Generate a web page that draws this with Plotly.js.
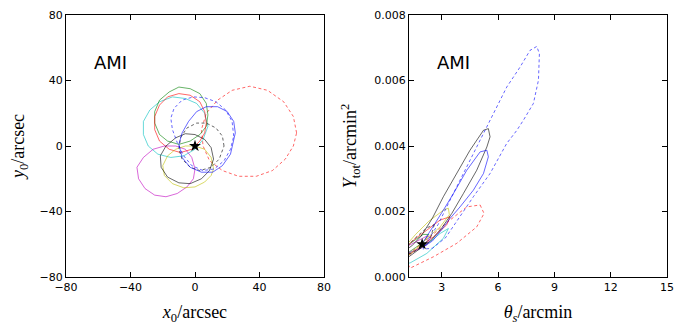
<!DOCTYPE html>
<html>
<head>
<meta charset="utf-8">
<script src="https://cdn.plot.ly/plotly-3.0.1.min.js"></script>
<style>html,body{margin:0;padding:0;background:#fff;}#chart{width:682px;height:332px;}</style>
</head>
<body>
<div id="chart"></div>
<script>
// ---------- Left panel: position contours (x0, y0 in arcsec) ----------
const posGreenX = [8,7,3,-3,-10,-16,-22,-25,-25,-22,-17,-10,-3,3,7,8];
const posGreenY = [19,26,32,35,36,33,28,21,14,7,3,1,3,7,12,19];
const posRedX = [7,6,3,-3,-10,-17,-22,-25,-25,-22,-16,-9,-2,3,6,7];
const posRedY = [14,21,27,31,32,30,25,18,10,3,-2,-4,-2,3,8,14];
const posCyanX = [8,6,1,-6,-14,-22,-28,-32,-32,-29,-23,-15,-7,0,5,8];
const posCyanY = [12,20,26,29,30,27,22,15,7,0,-5,-7,-6,-2,4,12];
const posBlueDashX = [24,23,19,13,6,-1,-8,-13,-15,-14,-11,-7,-2,5,12,18,22,24];
const posBlueDashY = [6,15,22,27,29.5,30,28,23,17,10,2,-6,-12,-15,-14,-9,-2,6];
const posBlueX = [25,24,20,14,7,1,-4,-8,-10,-8,-3,4,11,17,22,25];
const posBlueY = [8,15,21,24,24,21,15,8,1,-7,-13,-16,-16,-12,-5,8];
const posRedDashX = [63,61,55,45,34,23,14,7,4,5,9,17,27,38,48,56,61,63];
const posRedDashY = [8,18,27,34,36.5,34,28,20,10,0,-9,-15,-18.5,-18.5,-15,-8,0,8];
const posBlackDashX = [18,17,13,7,1,-5,-9,-10,-8,-3,3,10,15,18];
const posBlackDashY = [0,6,11,14,14,11,5,-2,-8,-13,-15,-13,-8,0];
const posBlackX = [11.5,10,6,0,-6,-12,-18,-21.5,-21,-17,-10,-3,4,9,11.5];
const posBlackY = [-8,-1,4,7,7.5,5,0,-6,-13,-19,-22.5,-23,-20,-15,-8];
const posYellowX = [11.5,10,6,0,-6,-12,-17,-20,-19,-14,-7,0,6,10,11.5];
const posYellowY = [-14,-7,-2,0,0,-2,-6,-12,-18,-23,-25.5,-25,-22,-18,-14];
const posMagentaX = [0,-2,-6,-12,-19,-26,-32,-36,-35,-31,-25,-18,-11,-5,-1,0];
const posMagentaY = [-14,-7,-2,0,0,-2,-7,-13,-20,-26,-30,-31,-29,-25,-20,-14];
const posTrueX = [0];
const posTrueY = [0];

// ---------- Right panel: theta_s (arcmin) vs Y_tot (arcmin^2) ----------
const sizeBlueDashX = [2.1,2.8,3.44,3.97,4.68,5.22,5.84,6.46,7.17,7.7,8.06,8.2,8.15,7.88,7.35,7.0,6.46,5.57,4.68,3.97,3.2,2.5,2.0,2.1];
const sizeBlueDashY = [0.0010,0.0016,0.00235,0.00296,0.00377,0.00438,0.00509,0.0058,0.00641,0.00692,0.00704,0.00682,0.00601,0.0053,0.00479,0.00448,0.00408,0.00316,0.00245,0.00184,0.0012,0.00088,0.00085,0.0010];
const sizeBlackX = [5.48,5.57,5.4,4.86,4.15,3.53,3.0,2.4,1.8,1.2,1.0,1.4,1.9,2.5,3.08,3.8,4.5,5.22,5.48];
const sizeBlackY = [0.00453,0.00428,0.00397,0.00326,0.00255,0.00194,0.0015,0.0011,0.00085,0.0006,0.0008,0.00095,0.00125,0.0018,0.00245,0.00316,0.00387,0.00448,0.00453];
const sizeBlueX = [5.4,5.48,5.22,4.68,3.97,3.44,3.0,2.5,2.1,1.9,2.1,2.5,3.08,3.62,4.33,5.04,5.4];
const sizeBlueY = [0.00387,0.00367,0.00316,0.00265,0.00214,0.00179,0.00145,0.0011,0.00095,0.001,0.00115,0.0015,0.00204,0.00255,0.00326,0.00382,0.00387];
const sizeRedDashX = [5.04,5.25,4.86,3.8,2.56,1.31,1.0,1.49,2.38,3.44,4.33,5.04];
const sizeRedDashY = [0.0022,0.00194,0.00153,0.00103,0.00062,0.00027,0.0006,0.00082,0.00123,0.00174,0.00214,0.0022];
const sizeYellowX = [3.35,3.4,2.91,2.2,1.5,1.1,1.0,1.6,2.3,3.08,3.35];
const sizeYellowY = [0.0021,0.0019,0.00153,0.00118,0.0008,0.0006,0.0009,0.0013,0.0017,0.00204,0.0021];
const sizeRedX = [3.44,3.26,2.56,1.84,1.13,1.0,1.49,2.2,2.91,3.44];
const sizeRedY = [0.00184,0.00159,0.00123,0.00092,0.00062,0.00085,0.00113,0.00143,0.00174,0.00184];
const sizeCyanX = [3.35,3.08,2.2,1.31,1.0,1.1,2.02,2.91,3.35];
const sizeCyanY = [0.00148,0.00118,0.00072,0.00043,0.0004,0.0007,0.00092,0.00133,0.00148];
const sizeMagentaX = [2.4,2.2,1.8,1.3,1.0,1.2,1.7,2.2,2.4];
const sizeMagentaY = [0.0012,0.00098,0.00085,0.00075,0.0007,0.00095,0.0011,0.00125,0.0012];
const sizeGreenX = [2.3,2.0,1.6,1.1,1.0,1.5,2.0,2.3];
const sizeGreenY = [0.0013,0.00105,0.0009,0.0007,0.0009,0.0011,0.0013,0.0013];
const sizeBlackDashX = [2.6,2.4,1.9,1.3,1.1,1.6,2.2,2.6];
const sizeBlackDashY = [0.0016,0.0012,0.0009,0.0007,0.0009,0.0012,0.0015,0.0016];
const sizeTrueX = [1.95];
const sizeTrueY = [0.001];

const xTicksLeft = [-80,-40,0,40,80];
const yTicksLeft = [-80,-40,0,40,80];
const xTicksRight = [3,6,9,12,15];
const yTicksRight = [0,0.002,0.004,0.006,0.008];
const panelLabel = "AMI";

const C = {b:'#0000ff', g:'#008000', r:'#ff0000', c:'#00bfbf', m:'#bf00bf', y:'#bfbf00', k:'#000000'};
const DASH = '3px,2.5px';

function line(x, y, color, dashed, ax) {
  return {x:x, y:y, type:'scatter', mode:'lines', xaxis:ax[0], yaxis:ax[1],
    line:{color:color, width:0.8, dash: dashed ? DASH : 'solid'}, opacity:0.75,
    hoverinfo:'skip', showlegend:false};
}
const L = ['x','y'], R = ['x2','y2'];
const traces = [
  line(posRedDashX, posRedDashY, C.r, true, L),
  line(posCyanX, posCyanY, C.c, false, L),
  line(posGreenX, posGreenY, C.g, false, L),
  line(posRedX, posRedY, C.r, false, L),
  line(posMagentaX, posMagentaY, C.m, false, L),
  line(posYellowX, posYellowY, C.y, false, L),
  line(posBlackX, posBlackY, C.k, false, L),
  line(posBlackDashX, posBlackDashY, C.k, true, L),
  line(posBlueDashX, posBlueDashY, C.b, true, L),
  line(posBlueX, posBlueY, C.b, false, L),
  {x:posTrueX, y:posTrueY, type:'scatter', mode:'markers', xaxis:'x', yaxis:'y',
    marker:{symbol:'star', size:9, color:'#000'}, showlegend:false},

  line(sizeRedDashX, sizeRedDashY, C.r, true, R),
  line(sizeCyanX, sizeCyanY, C.c, false, R),
  line(sizeGreenX, sizeGreenY, C.g, false, R),
  line(sizeRedX, sizeRedY, C.r, false, R),
  line(sizeMagentaX, sizeMagentaY, C.m, false, R),
  line(sizeYellowX, sizeYellowY, C.y, false, R),
  line(sizeBlackDashX, sizeBlackDashY, C.k, true, R),
  line(sizeBlackX, sizeBlackY, C.k, false, R),
  line(sizeBlueDashX, sizeBlueDashY, C.b, true, R),
  line(sizeBlueX, sizeBlueY, C.b, false, R),
  {x:sizeTrueX, y:sizeTrueY, type:'scatter', mode:'markers', xaxis:'x2', yaxis:'y2',
    marker:{symbol:'star', size:9, color:'#000'}, showlegend:false}
];

const tickFont = {family:'DejaVu Sans, sans-serif', size:11, color:'#000'};
const titleFont = {family:'Liberation Serif, DejaVu Serif, serif', size:18, color:'#000'};
function ax(extra) {
  return Object.assign({showgrid:false, zeroline:false, showline:true, linecolor:'#000', linewidth:1,
    mirror:'allticks', ticks:'inside', ticklen:5, tickwidth:1, tickcolor:'#000',
    tickfont:tickFont, fixedrange:true}, extra);
}

const layout = {
  width:682, height:332,
  margin:{l:66, r:15, t:15, b:55},
  paper_bgcolor:'#fff', plot_bgcolor:'#fff',
  xaxis: ax({domain:[0,0.4293], range:[-80,80], tickvals:xTicksLeft, anchor:'y',
    title:{text:'<i>x</i><sub>0</sub>/arcsec', font:titleFont, standoff:12}}),
  yaxis: ax({domain:[0,1], range:[-80,80], tickvals:yTicksLeft, anchor:'x',
    title:{text:'<i>y</i><sub>0</sub>/arcsec', font:titleFont, standoff:10}}),
  xaxis2: ax({domain:[0.5707,1], range:[1.25,15], tickvals:xTicksRight, anchor:'y2',
    title:{text:'<i>θ</i><sub><i>s</i></sub>/arcmin', font:titleFont, standoff:12}}),
  yaxis2: ax({domain:[0,1], range:[0,0.008], tickvals:yTicksRight, tickformat:'.3f', anchor:'x2',
    title:{text:'<i>Y</i><sub>tot</sub>/arcmin<sup>2</sup>', font:titleFont, standoff:12}}),
  annotations:[
    {text:panelLabel, xref:'x domain', yref:'y domain', x:0.1, y:0.82, xanchor:'left', yanchor:'middle',
      showarrow:false, font:{family:'DejaVu Sans, sans-serif', size:18, color:'#000'}},
    {text:panelLabel, xref:'x2 domain', yref:'y2 domain', x:0.1, y:0.82, xanchor:'left', yanchor:'middle',
      showarrow:false, font:{family:'DejaVu Sans, sans-serif', size:18, color:'#000'}}
  ]
};

Plotly.newPlot('chart', traces, layout, {displayModeBar:false, staticPlot:true});
</script>
</body>
</html>
